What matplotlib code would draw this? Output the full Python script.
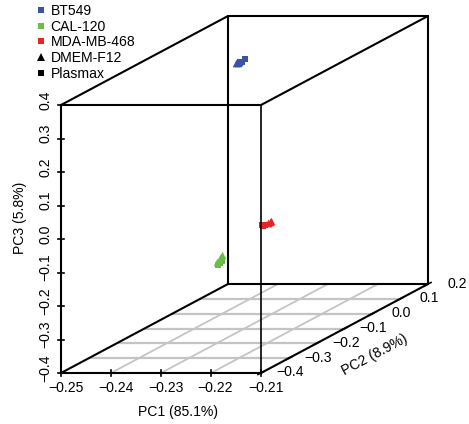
import numpy as np
import matplotlib
matplotlib.use('Agg')
import matplotlib.pyplot as plt
from matplotlib.lines import Line2D

plt.rcParams['font.family'] = ['Liberation Sans', 'DejaVu Sans']

pc1_ticks = [-0.25, -0.24, -0.23, -0.22, -0.21]
pc2_ticks = [-0.4, -0.3, -0.2, -0.1, 0.0, 0.1, 0.2]
pc3_ticks = [-0.4, -0.3, -0.2, -0.1, 0.0, 0.1, 0.2, 0.3, 0.4]

groups = ['BT549', 'CAL-120', 'MDA-MB-468']
colors = ['#3A53A4', '#6ABD45', '#ED2024']

# squares = Plasmax, triangles = DMEM-F12
pc1_sq = [[-0.2355, -0.2361, -0.2365], [-0.2464, -0.2456, -0.2460], [-0.2154, -0.2148, -0.2152]]
pc2_sq = [[0.0, 0.0, 0.0], [0.1, 0.1, 0.1], [-0.3, -0.3, -0.3]]
pc3_sq = [[0.360, 0.352, 0.351], [-0.299, -0.287, -0.293], [-0.002, -0.002, -0.004]]

pc1_tri = [[-0.2373, -0.2367, -0.2369], [-0.2456, -0.2460, -0.2466], [-0.2138, -0.2142, -0.2136]]
pc2_tri = [[0.0, 0.0, 0.0], [0.1, 0.1, 0.1], [-0.3, -0.3, -0.3]]
pc3_tri = [[0.349, 0.351, 0.348], [-0.269, -0.278, -0.290], [0.007, 0.004, 0.008]]


# oblique projection, same idea as scatterplot3d
def proj(x, y, z):
    x, y, z = np.asarray(x), np.asarray(y), np.asarray(z)
    fy = (y + 0.4) / 0.6
    px = 61 + (x + 0.25) / 0.04 * 200 + fy * 167
    py = 373 - (z + 0.4) / 0.8 * 268 - fy * 89
    return px, py


def seg(ax, a, b, **kw):
    xs, ys = proj(*zip(a, b))
    ax.plot(xs, ys, solid_capstyle='round', **kw)


fig = plt.figure(figsize=(4.69, 4.24), dpi=100)
ax = fig.add_axes([0, 0, 1, 1])
ax.set_xlim(0, 469)
ax.set_ylim(424, 0)
ax.axis('off')

x0, x1 = pc1_ticks[0], pc1_ticks[-1]
y0, y1 = pc2_ticks[0], pc2_ticks[-1]
z0, z1 = pc3_ticks[0], pc3_ticks[-1]

# floor grid
for v in pc1_ticks[1:-1]:
    seg(ax, (v, y0, z0), (v, y1, z0), color='#c4c4c4', lw=1.3, zorder=1)
for v in pc2_ticks[1:-1]:
    seg(ax, (x0, v, z0), (x1, v, z0), color='#c4c4c4', lw=1.6, zorder=1)

# back of the box
box = dict(color='black', lw=1.5, zorder=2)
seg(ax, (x0, y1, z0), (x0, y1, z1), **box)
seg(ax, (x1, y1, z0), (x1, y1, z1), **box)
seg(ax, (x0, y1, z1), (x1, y1, z1), **box)
seg(ax, (x0, y1, z0), (x1, y1, z0), **box)

# points
for i in range(3):
    xs, ys = proj(pc1_sq[i], pc2_sq[i], pc3_sq[i])
    ax.scatter(xs, ys, marker='s', s=22, color=colors[i], lw=0, zorder=3)
    xs, ys = proj(pc1_tri[i], pc2_tri[i], pc3_tri[i])
    ax.scatter(xs, ys, marker='^', s=30, color=colors[i], lw=0, zorder=3)

# front of the box
seg(ax, (x0, y0, z0), (x0, y0, z1), **box)
seg(ax, (x1, y0, z0), (x1, y0, z1), color='black', lw=1.2, zorder=4)
seg(ax, (x0, y0, z1), (x1, y0, z1), **box)
seg(ax, (x0, y0, z0), (x1, y0, z0), **box)
seg(ax, (x0, y0, z0), (x0, y1, z0), **box)
seg(ax, (x1, y0, z0), (x1, y1, z0), **box)
seg(ax, (x0, y0, z1), (x0, y1, z1), **box)
seg(ax, (x1, y0, z1), (x1, y1, z1), **box)

fs = 10.1
tk = dict(color='black', lw=1.2, zorder=4)
for v in pc1_ticks:
    px, py = proj(v, y0, z0)
    ax.plot([px, px], [py - 3, py + 3], **tk)
    ax.text(px + 4.5, py + 15, f'{v:.2f}'.replace('-', '\u2212'), fontsize=fs, ha='center', va='center')
for v in pc2_ticks:
    px, py = proj(x1, v, z0)
    ax.plot([px - 3, px + 3], [py + 1.5, py - 1.5], **tk)
    ax.text(px + 29, py - 0.5, f'{v:.1f}'.replace('-', '\u2212'), fontsize=fs, ha='center', va='center')
for v in pc3_ticks:
    px, py = proj(x0, y0, v)
    ax.plot([px - 3, px + 3], [py, py], **tk)
    ax.text(px - 16, py - 5, f'{v:.1f}'.replace('-', '\u2212'), fontsize=fs, ha='center', va='center', rotation=90)

ax.text(178, 412, 'PC1 (85.1%)', fontsize=fs, ha='center', va='center')
ax.text(375, 355, 'PC2 (8.9%)', fontsize=fs, ha='center', va='center', rotation=28)
ax.text(20, 218, 'PC3 (5.8%)', fontsize=fs, ha='center', va='center', rotation=90)

handles = [Line2D([], [], ls='', marker='s', ms=4.6, color=c, mew=0) for c in colors]
handles.append(Line2D([], [], ls='', marker='^', ms=5.2, color='black', mew=0))
handles.append(Line2D([], [], ls='', marker='s', ms=4.6, color='black', mew=0))
ax.legend(handles, groups + ['DMEM-F12', 'Plasmax'], loc='upper left', bbox_to_anchor=(37 / 469, 1 - 4 / 424),
          frameon=False, fontsize=fs, labelspacing=0.12, handlelength=0.6, handletextpad=0.38,
          borderpad=0, borderaxespad=0)

fig.savefig('out.png', dpi=100)
